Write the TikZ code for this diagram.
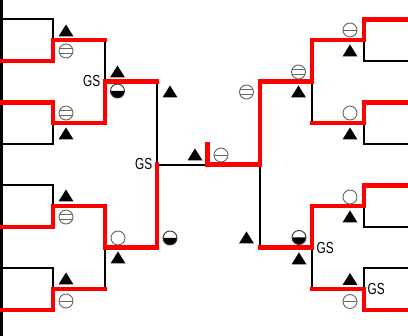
\documentclass[tikz,border=0pt]{standalone}
\usepackage{fontspec}
\setmainfont{Liberation Sans}
\begin{document}
\begin{tikzpicture}[x=1pt,y=-1pt,
  bk/.style={line width=2pt,black},
  rd/.style={line width=4.5pt,red,line cap=rect},
  mk/.style={draw=black!60,line width=0.9pt},
  gs/.style={font=\fontsize{16}{16}\selectfont,inner sep=0pt},
  tri/.pic={\fill[black] (-7.5,5.5)--(7.5,5.5)--(0,-6.5)--cycle;},
  cirO/.pic={\draw[mk,fill=white] (0,0) circle[radius=7pt];},
  cirA/.pic={\draw[mk,fill=white] (0,0) circle[radius=7pt];
             \draw[mk] (-7,0)--(7,0);},
  cirB/.pic={\draw[mk,fill=white] (0,0) circle[radius=7pt];
             \draw[mk] (-6.4,-2.8)--(6.4,-2.8) (-6.4,2.8)--(6.4,2.8);},
  half/.pic={\fill[black] (7,0) arc[start angle=0,end angle=-180,radius=7pt]--cycle;
             \draw[black!80,line width=0.9pt] (0,0) circle[radius=7pt];}
]
\useasboundingbox (0,0) rectangle (408,336);
% ---------- black bracket ----------
\draw[line width=3pt] (1.5,0)--(1.5,336);
\foreach \t/\b in {19.5/61,102.5/144,185.5/227,268.5/310}{
  \draw[bk] (0,\t)-|(53,\b)--(0,\b);
  \draw[bk] (408,\t)-|(364,\b)--(408,\b);
}
\draw[bk] (53,40.25)-|(105,123.25)--(53,123.25);
\draw[bk] (53,206.25)-|(105,289.25)--(53,289.25);
\draw[bk] (105,81.75)-|(157,247.75)--(105,247.75);
\draw[bk] (157,164.75)--(260,164.75);
\draw[bk] (312,81.75)-|(260,247.75)--(312,247.75);
\draw[bk] (364,40.25)-|(312,123.25)--(364,123.25);
\draw[bk] (364,206.25)-|(312,289.25)--(364,289.25);
% ---------- red winners ----------
\draw[rd] (0,61)-|(53,40.25)--(105,40.25);
\draw[rd] (0,102.5)-|(53,123.25)-|(105,81.75)--(157,81.75);
\draw[rd] (0,227)-|(53,206.25)-|(105,247.75)-|(157,164.75);
\draw[rd] (0,310)-|(53,289.25)--(105,289.25);
\draw[rd] (207.5,144)--(207.5,164.75)-|(260,81.75)-|(312,40.25)-|(364,19.5)--(408,19.5);
\draw[rd] (408,102.5)-|(364,123.25)--(312,123.25);
\draw[rd] (260,247.75)-|(312,206.25)-|(364,185.5)--(408,185.5);
\draw[rd] (312,289.25)-|(364,310)--(408,310);
% ---------- marks ----------
\pic at (66,31) {tri};   \pic at (66,51) {cirB};
\pic at (66,113) {cirB}; \pic at (66,134) {tri};
\pic at (66,196) {tri};  \pic at (66,217) {cirB};
\pic at (66,279) {tri};  \pic at (66,301) {cirA};
\pic at (117.5,72) {tri};  \pic at (117.5,91) {half};
\pic at (118,238) {cirO};  \pic at (118,258) {tri};
\pic at (170,92) {tri};    \pic at (170,238) {half};
\pic at (195,155) {tri};   \pic at (221,155) {cirA};
\pic at (246.5,92) {cirB}; \pic at (246.5,238) {tri};
\pic at (298.5,72) {cirB}; \pic at (298.5,92) {tri};
\pic at (299,237.5) {half}; \pic at (299,259) {tri};
\pic at (350,30) {cirA};  \pic at (350,51) {tri};
\pic at (350,113) {cirO}; \pic at (350,134) {tri};
\pic at (350,197) {cirO}; \pic at (350,217) {tri};
\pic at (350,279.5) {tri}; \pic at (350,301.5) {cirA};
% ---------- GS labels ----------
\node[gs,anchor=east] (gs1) at (100.5,81) {\scalebox{0.74}[1]{GS}};
\node[gs,anchor=east] (gs2) at (152.5,163.5) {\scalebox{0.74}[1]{GS}};
\node[gs,anchor=west] (gs3) at (316.5,247.5) {\scalebox{0.74}[1]{GS}};
\node[gs,anchor=west] (gs4) at (367.5,288.5) {\scalebox{0.74}[1]{GS}};
\end{tikzpicture}
\end{document}
